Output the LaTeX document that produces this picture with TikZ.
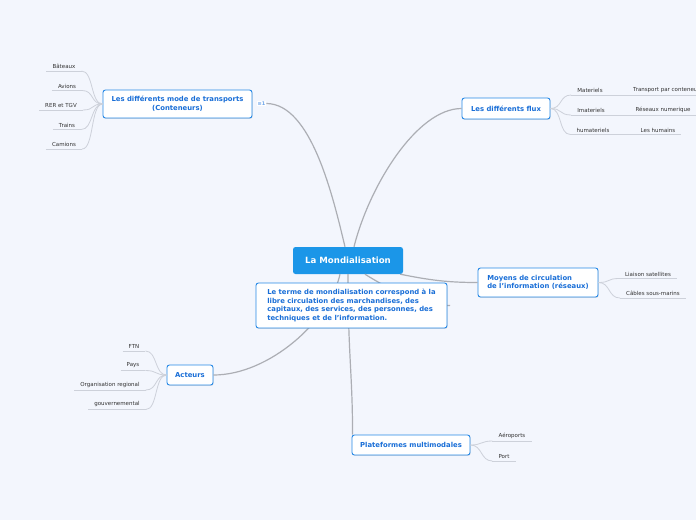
\documentclass[tikz,border=0pt]{standalone}
\usepackage{fontspec}
\setmainfont{DejaVu Sans}
\usetikzlibrary{shadows}
\definecolor{bg}{RGB}{243,246,253}
\definecolor{nodeblue}{RGB}{38,136,230}
\definecolor{textblue}{RGB}{25,110,215}
\definecolor{iconblue}{RGB}{110,165,235}
\definecolor{centralfill}{RGB}{27,150,232}
\definecolor{mainline}{RGB}{172,174,180}
\definecolor{leafline}{RGB}{205,209,218}
\definecolor{leaftext}{RGB}{50,50,50}
\begin{document}
\begin{tikzpicture}[x=1pt,y=-1pt,
  topic/.style={draw=nodeblue, line width=0.9pt, fill=white, rounded corners=2.5pt,
    text=textblue, font=\fontsize{6.85}{8.6}\selectfont\bfseries,
    drop shadow={opacity=0.22, shadow xshift=0.6pt, shadow yshift=-0.9pt}, inner sep=0pt},
  central/.style={fill=centralfill, rounded corners=2.5pt, text=white,
    font=\fontsize{8.6}{10}\selectfont\bfseries, inner sep=0pt,
    minimum width=110pt, minimum height=27pt},
  leaf/.style={font=\fontsize{5.5}{6.5}\selectfont, text=leaftext, inner xsep=6pt,
    inner ysep=2.2pt, anchor=south},
  mainconn/.style={draw=mainline, line width=1.2pt},
  leafconn/.style={draw=leafline, line width=0.8pt},
  iconnode/.style={fill=white, text=iconblue, inner sep=0.8pt,
    font=\fontsize{5}{5}\selectfont\bfseries}
]
\useasboundingbox (0,0) rectangle (696,520);
\fill[bg] (0,0) rectangle (696,520);
\clip (0,0) rectangle (696,520);

% central node and nodes
\node[central] (central) at (348,260.5) {La Mondialisation};
\node[topic, minimum width=149pt, minimum height=28pt, align=center] (transport) at (177.5,104)
  {Les différents mode de transports\\(Conteneurs)};
\node[iconnode] (icon) at (261.5,103.5) {≡1};
\node[topic, minimum width=88pt, minimum height=21pt] (flux) at (506,108.5) {Les différents flux};
\node[topic, minimum width=120pt, minimum height=29pt, align=left] (moyens) at (538,282.5)
  {Moyens de circulation\\de l'information (réseaux)};
\node[topic, minimum width=46pt, minimum height=20pt] (acteurs) at (190,375) {Acteurs};
\node[topic, minimum width=118pt, minimum height=20pt] (plat) at (411,445) {Plateformes multimodales};

% main connectors
\draw[mainconn] ([xshift=-3pt]central.north) .. controls +(-12,-50) and +(45,0) .. (icon.east);
\draw[mainconn] ([xshift=6pt]central.north) .. controls +(15,-60) and +(-45,0) .. (flux.west);
\draw[mainconn] ([xshift=-3pt]central.south east) .. controls +(30,6) and +(-30,0) .. (moyens.west);
\draw[mainconn] ([xshift=-8pt]central.south) .. controls +(-10,46) and +(56,0) .. (acteurs.east);
\draw[mainconn] (central.south) .. controls +(0,80) and +(0,-60) .. ([xshift=1pt]plat.north west);
\coordinate (descend) at (450,305.5);
\draw[mainconn] ([xshift=17pt]central.south) .. controls +(40,25) and +(-20,0) .. (descend);

\node[topic, minimum width=191pt, minimum height=45pt, align=left] (desc) at (351.5,305.5)
  {Le terme de mondialisation correspond à la\\libre circulation des marchandises, des\\capitaux, des services, des personnes, des\\techniques et de l'information.};

% transport leaves
\node[leaf] (t1) at (64,71) {Bâteaux};
\node[leaf] (t2) at (67,90.5) {Avions};
\node[leaf] (t3) at (61,110) {RER et TGV};
\node[leaf] (t4) at (67,129.5) {Trains};
\node[leaf] (t5) at (64,149) {Camions};
\foreach \n in {t1,t2,t3,t4,t5}{
  \draw[leafconn] (\n.south west) -- (\n.south east);
  \draw[leafconn] (transport.west) .. controls +(-12,0) and +(12,0) .. (\n.south east);
}

% flux leaves
\node[leaf] (f1) at (590,95) {Materiels};
\node[leaf] (f2) at (591,115) {Imateriels};
\node[leaf] (f3) at (593,134.5) {humateriels};
\node[leaf, anchor=south west] (f1b) at (627,95) {Transport par conteneurs};
\node[leaf] (f2b) at (663,115) {Réseaux numerique};
\node[leaf] (f3b) at (658,134.5) {Les humains};
\foreach \n in {f1,f2,f3}{
  \draw[leafconn] (\n.south west) -- (\n.south east);
  \draw[leafconn] (flux.east) .. controls +(12,0) and +(-12,0) .. (\n.south west);
}
\foreach \a/\b in {f1/f1b,f2/f2b,f3/f3b}{
  \draw[leafconn] (\a.south east) -- (\b.south west);
  \draw[leafconn] (\b.south west) -- (\b.south east);
}

% moyens leaves
\node[leaf] (m1) at (648,278.5) {Liaison satellites};
\node[leaf] (m2) at (653,298) {Câbles sous-marins};
\foreach \n in {m1,m2}{
  \draw[leafconn] (\n.south west) -- (\n.south east);
  \draw[leafconn] (moyens.east) .. controls +(12,0) and +(-12,0) .. (\n.south west);
}

% acteurs leaves
\node[leaf] (a1) at (134,351) {FTN};
\node[leaf] (a2) at (133,370.5) {Pays};
\node[leaf] (a3) at (110,390) {Organisation regional};
\node[leaf] (a4) at (117,409.5) {gouvernemental};
\foreach \n in {a1,a2,a3,a4}{
  \draw[leafconn] (\n.south west) -- (\n.south east);
  \draw[leafconn] (acteurs.west) .. controls +(-12,0) and +(12,0) .. (\n.south east);
}

% plateformes leaves
\node[leaf] (p1) at (512,441) {Aéroports};
\node[leaf] (p2) at (504,461) {Port};
\foreach \n in {p1,p2}{
  \draw[leafconn] (\n.south west) -- (\n.south east);
  \draw[leafconn] (plat.east) .. controls +(12,0) and +(-12,0) .. (\n.south west);
}
\end{tikzpicture}
\end{document}
